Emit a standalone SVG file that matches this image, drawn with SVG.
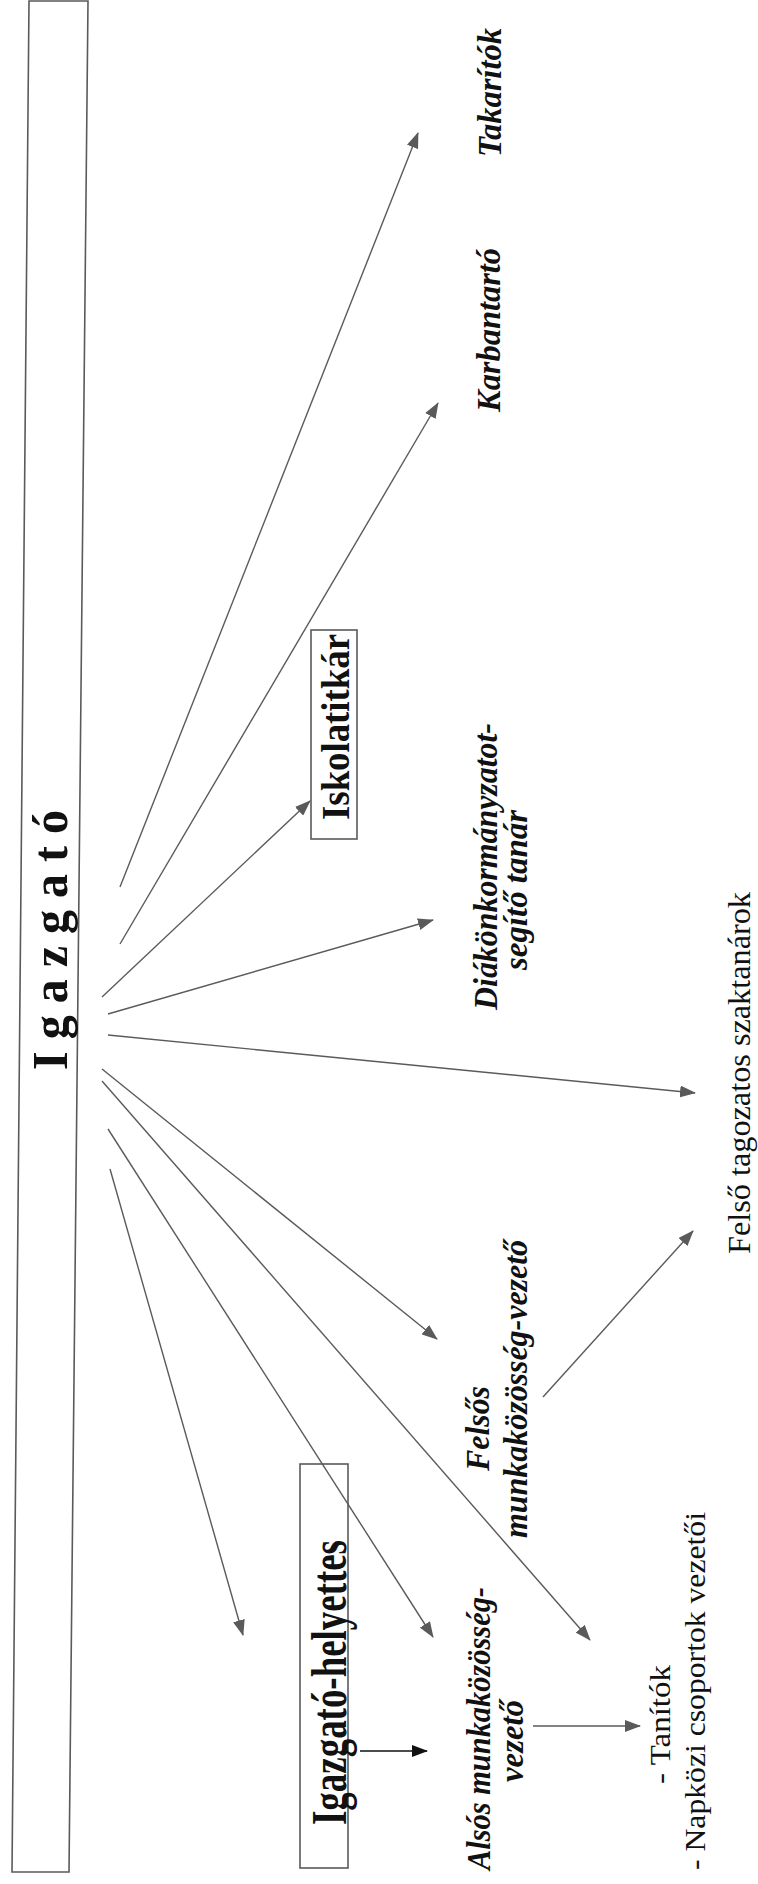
<svg xmlns="http://www.w3.org/2000/svg" width="758" height="1884" viewBox="0 0 758 1884">
<style>
.box{fill:none;stroke:#5a5a5a;stroke-width:1.6}
.ln{stroke:#5a5a5a;stroke-width:1.4;fill:none}
.lnk{stroke:#111;stroke-width:1.6;fill:none}
.b{font-family:"Liberation Serif",serif;font-weight:bold;fill:#111}
.bi{font-family:"Liberation Serif",serif;font-weight:bold;font-style:italic;fill:#111}
.r{font-family:"Liberation Serif",serif;fill:#111}
</style>
<defs>
<marker id="ah" markerUnits="userSpaceOnUse" markerWidth="16" markerHeight="12" refX="15" refY="6" orient="auto"><path d="M0,0 L16,6 L0,12 Z" fill="#5a5a5a"/></marker>
<marker id="ahk" markerUnits="userSpaceOnUse" markerWidth="16" markerHeight="12" refX="15" refY="6" orient="auto"><path d="M0,0 L16,6 L0,12 Z" fill="#111"/></marker>
</defs>
<rect width="758" height="1884" fill="#fff"/>
<g id="igazgato">
<polygon class="box" points="29,1 88,1 69,1872 12,1872"/>
<text class="b" font-size="50" transform="translate(67,1070) rotate(-90)" textLength="260" lengthAdjust="spacingAndGlyphs">I g a z g a t ó</text>
</g>
<g id="iskolatitkar">
<rect class="box" x="311" y="630" width="46" height="209"/>
<text class="b" font-size="40" transform="translate(349,820) rotate(-90)" textLength="186" lengthAdjust="spacingAndGlyphs">Iskolatitkár</text>
</g>
<g id="helyettes">
<rect class="box" x="300" y="1464" width="48" height="404"/>
<text class="b" font-size="50" transform="translate(346,1825) rotate(-90)" textLength="285" lengthAdjust="spacingAndGlyphs">Igazgató-helyettes</text>
</g>
<g id="takaritok">
<text class="bi" font-size="33" transform="translate(501,157) rotate(-90)" textLength="129" lengthAdjust="spacingAndGlyphs">Takarítók</text>
</g>
<g id="karbantarto">
<text class="bi" font-size="33" transform="translate(500,412) rotate(-90)" textLength="164" lengthAdjust="spacingAndGlyphs">Karbantartó</text>
</g>
<g id="diak">
<text class="bi" font-size="34" transform="translate(497,1010) rotate(-90)" textLength="287" lengthAdjust="spacingAndGlyphs">Diákönkormányzatot-</text>
<text class="bi" font-size="34" transform="translate(527,970) rotate(-90)" textLength="160" lengthAdjust="spacingAndGlyphs">segítő tanár</text>
</g>
<g id="felso-tagozat">
<text class="r" font-size="31" transform="translate(750,1254) rotate(-90)" textLength="362" lengthAdjust="spacingAndGlyphs">Felső tagozatos szaktanárok</text>
</g>
<g id="felsos">
<text class="bi" font-size="34" transform="translate(489,1471) rotate(-90)" textLength="85" lengthAdjust="spacingAndGlyphs">Felsős</text>
<text class="bi" font-size="34" transform="translate(527,1538) rotate(-90)" textLength="298" lengthAdjust="spacingAndGlyphs">munkaközösség-vezető</text>
</g>
<g id="alsos">
<text class="bi" font-size="34" transform="translate(490,1870) rotate(-90)" textLength="283" lengthAdjust="spacingAndGlyphs">Alsós munkaközösség-</text>
<text class="bi" font-size="34" transform="translate(523,1782) rotate(-90)" textLength="82" lengthAdjust="spacingAndGlyphs">vezető</text>
</g>
<g id="tanitok">
<text class="r" font-size="30" transform="translate(670,1784) rotate(-90)" textLength="119" lengthAdjust="spacingAndGlyphs">- Tanítók</text>
<text class="r" font-size="30" transform="translate(705,1870) rotate(-90)" textLength="358" lengthAdjust="spacingAndGlyphs">- Napközi csoportok vezetői</text>
</g>
<g id="connectors">
<line class="ln" x1="120" y1="887" x2="418" y2="133" marker-end="url(#ah)"/>
<line class="ln" x1="120" y1="944" x2="438" y2="403" marker-end="url(#ah)"/>
<line class="ln" x1="102" y1="997" x2="310" y2="801" marker-end="url(#ah)"/>
<line class="ln" x1="108" y1="1014" x2="433" y2="920" marker-end="url(#ah)"/>
<line class="ln" x1="108" y1="1035" x2="695" y2="1093" marker-end="url(#ah)"/>
<line class="ln" x1="102" y1="1069" x2="437" y2="1339" marker-end="url(#ah)"/>
<line class="ln" x1="102" y1="1081" x2="590" y2="1640" marker-end="url(#ah)"/>
<line class="ln" x1="108" y1="1129" x2="433" y2="1637" marker-end="url(#ah)"/>
<line class="ln" x1="110" y1="1169" x2="243" y2="1635" marker-end="url(#ah)"/>
<line class="ln" x1="543" y1="1397" x2="693" y2="1231" marker-end="url(#ah)"/>
<line class="lnk" x1="360" y1="1751" x2="427" y2="1751" marker-end="url(#ahk)"/>
<line class="ln" x1="533" y1="1726" x2="640" y2="1726" marker-end="url(#ah)"/>
</g>
</svg>
